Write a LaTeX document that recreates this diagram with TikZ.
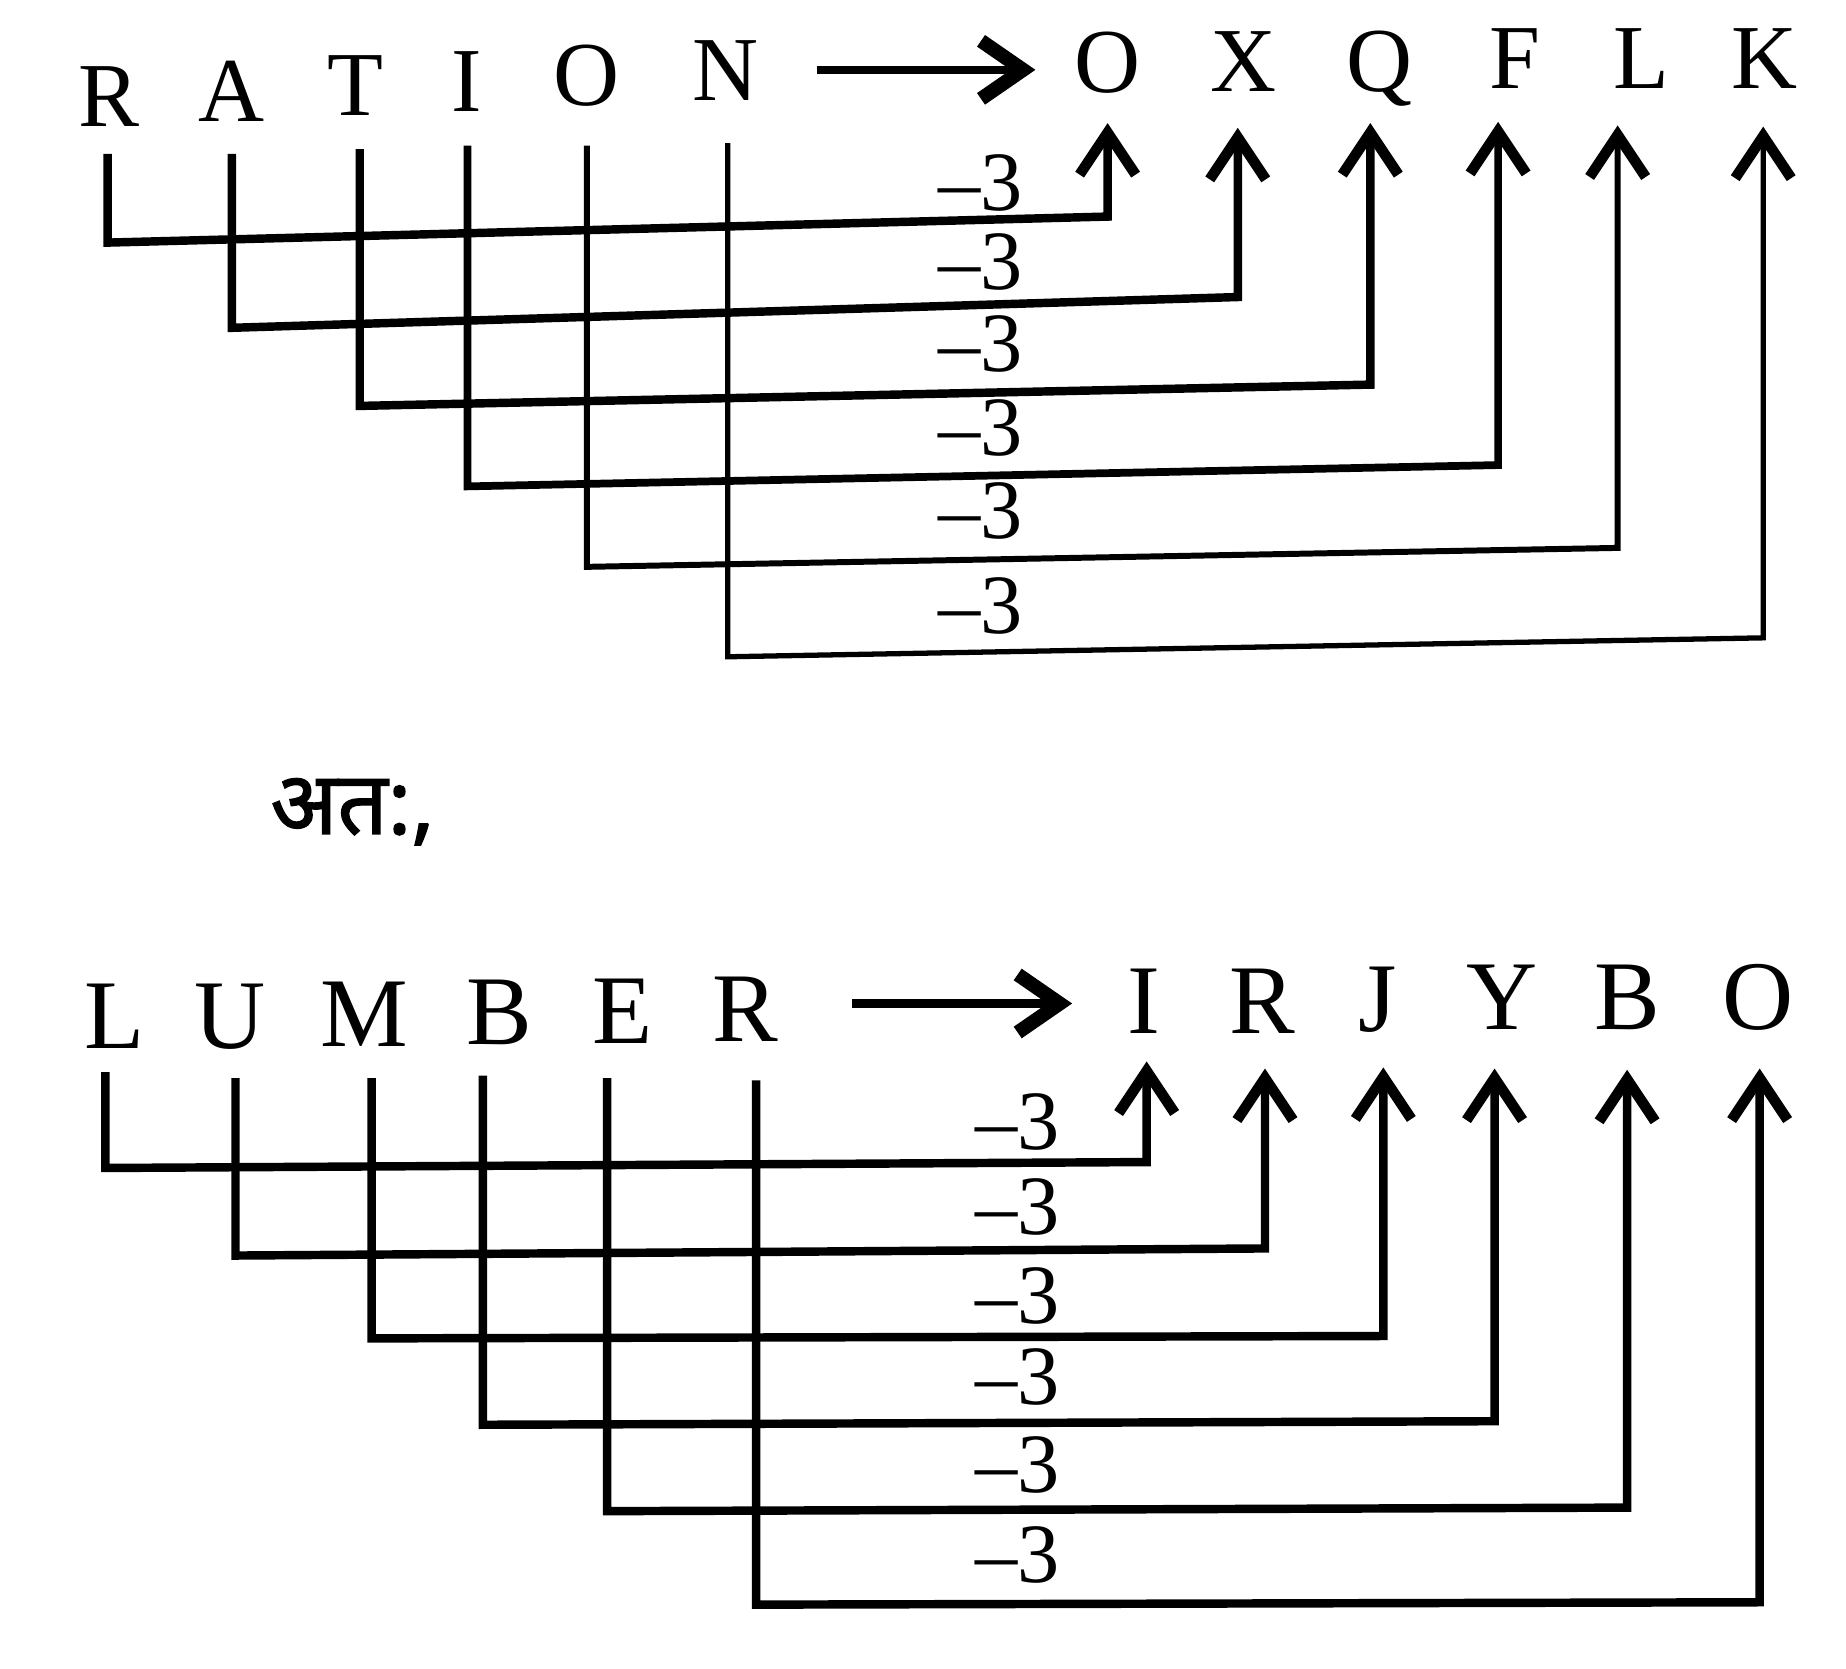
\documentclass[tikz,border=0pt]{standalone}
\usepackage{fontspec}
\setmainfont{Liberation Serif}
\newfontfamily\hindifont[Script=Devanagari,FakeBold=1.5]{Noto Sans}
\usetikzlibrary{arrows.meta}

\tikzset{
  ltr/.style={inner sep=0pt, anchor=base, font=\fontsize{26}{30}\selectfont},
  bigltr/.style={ltr, font=\fontsize{28}{32}\selectfont},
  lbl/.style={inner sep=0pt, font=\fontsize{24}{28}\selectfont},
  lnk/.style={line width=2.4pt, -{Straight Barb[length=0.42cm,width=0.56cm,line width=3pt]}},
  maparrow/.style={line width=2.4pt, -{Straight Barb[length=0.42cm,width=0.58cm,line width=4pt]}}
}

\begin{document}
\begin{tikzpicture}[x=0.011833cm, y=-0.011833cm]
		\useasboundingbox (0,0) rectangle (1560,1410.4);
		
		%%%%% RATION %%%%%
		\foreach \c/\x/\y [count=\i] in {R/92/107, A/196/103, T/300/98, I/394/94, O/496/89, N/613/85}
			\node[ltr] (s\i) at (\x,\y) {\c};
		\foreach \c/\x/\y [count=\i] in {O/936/78, X/1051/77, Q/1166/77, F/1280/75, L/1387/75, K/1491/75}
			\node[ltr] (t\i) at (\x,\y) {\c};
		
		\coordinate (ma) at (690,59);
		\coordinate (mb) at (875,59);
		\draw[maparrow] (ma) -- (mb);
		
		\foreach \sx/\sy/\ly/\tx/\ry/\ty/\lw [count=\i] in {91/130/205/936/183/104/2.4, 196/130/277/1046/251/108/2.4, 304/126/343/1158/325/104/2.4, 395/123/411/1266/393/103/2.2, 496/123/479/1367/463/106/1.7, 615/121/555/1490/539/107/1.5}
		{
			\coordinate (dn\i) at (\sx,\sy);
			\coordinate (cl\i) at (\sx,\ly);
			\coordinate (cr\i) at (\tx,\ry);
			\coordinate (up\i) at (\tx,\ty);
			\draw[lnk, line width=\lw pt] (dn\i) -- (cl\i) -- (cr\i) -- (up\i);
		}
		
		\foreach \y [count=\i] in {155,221,291,362,432,512}
			\node[lbl] (d\i) at (829,\y) {–3};
		
		%%%%% hence %%%%%
		\node[inner sep=0pt, font=\hindifont\fontsize{25}{30}\selectfont] (hence) at (298,686) {अत:,};
		
		%%%%% LUMBER %%%%%
		\foreach \c/\x/\y [count=\i] in {L/97/886, U/194/886, M/308/884, B/422/883, E/526/882, R/630/880}
			\node[bigltr] (p\i) at (\x,\y) {\c};
		\foreach \c/\x/\y [count=\i] in {I/967/873, R/1067/873, J/1164/872, Y/1269/870, B/1375/870, O/1486/870}
			\node[bigltr] (q\i) at (\x,\y) {\c};
		
		\coordinate (na) at (720,848);
		\coordinate (nb) at (906,848);
		\draw[maparrow] (na) -- (nb);
		
		\foreach \sx/\sy/\ly/\tx/\ry/\ty [count=\i] in {89/906/987/969/982/897, 199/911/1061/1069/1055/903, 314/911/1131/1169/1129/902, 408/909/1204/1263/1201/903, 513/911/1277/1375/1274/904, 639/913/1356/1487/1354/903}
		{
			\coordinate (pd\i) at (\sx,\sy);
			\coordinate (pl\i) at (\sx,\ly);
			\coordinate (pr\i) at (\tx,\ry);
			\coordinate (pu\i) at (\tx,\ty);
			\draw[lnk] (pd\i) -- (pl\i) -- (pr\i) -- (pu\i);
		}
		
		\foreach \y [count=\i] in {948,1020,1095,1164,1238,1314}
			\node[lbl] (e\i) at (860,\y) {–3};
		
\end{tikzpicture}
\end{document}
